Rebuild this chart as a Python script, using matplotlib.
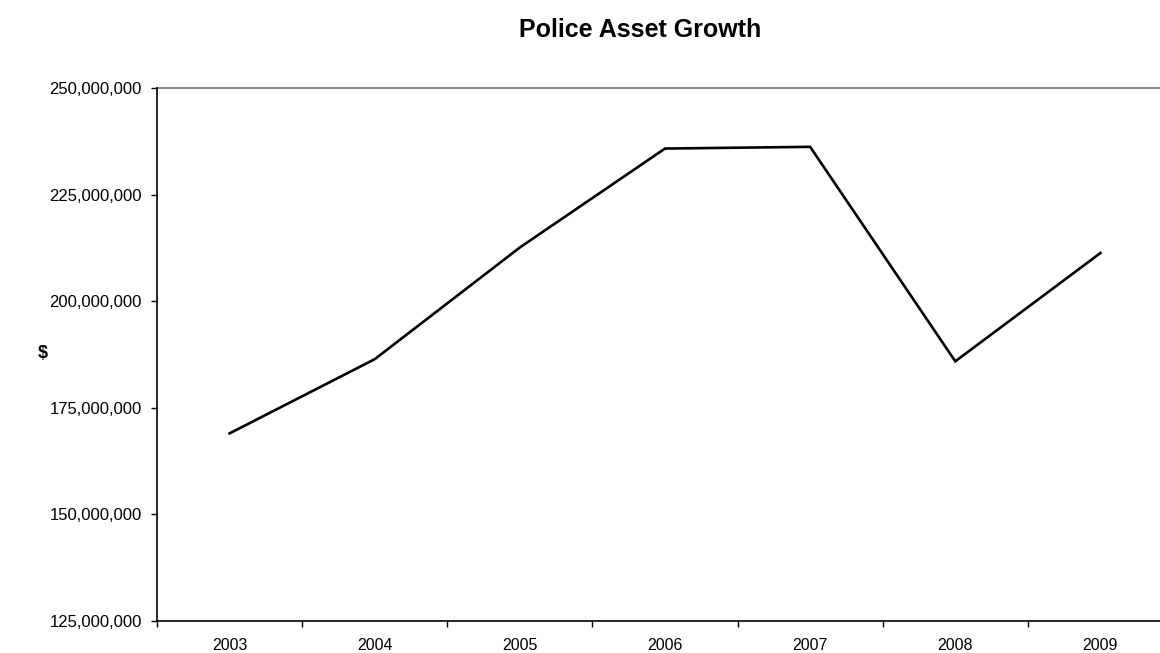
import matplotlib.pyplot as plt
from matplotlib.ticker import FuncFormatter, FixedLocator

# Police asset values by year
years = ['2003', '2004', '2005', '2006', '2007', '2008', '2009']
assets = [169.0e6, 186.4e6, 212.6e6, 235.8e6, 236.2e6, 185.9e6, 211.3e6]

plt.rcParams['font.family'] = ['Liberation Sans', 'DejaVu Sans']

fig = plt.figure(figsize=(11.6, 6.53), dpi=100)
ax = fig.add_axes([157 / 1160, 1 - 621 / 653, (1173 - 157) / 1160, (621 - 88) / 653])

x = list(range(len(years)))
ax.plot(x, assets, color='black', linewidth=1.9, solid_joinstyle='miter')

ax.set_xlim(-0.5, len(years) - 0.5)
ax.set_ylim(125e6, 250e6)
ax.set_yticks([125e6, 150e6, 175e6, 200e6, 225e6, 250e6])
ax.yaxis.set_major_formatter(FuncFormatter(lambda v, p: f'{v:,.0f}'))
ax.axhline(250e6, color='#8c8c8c', linewidth=1.5, clip_on=False)

# category labels centred, tick marks between categories
ax.set_xticks(x)
ax.set_xticklabels(years)
ax.xaxis.set_minor_locator(FixedLocator([i - 0.5 for i in range(len(years) + 1)]))
ax.tick_params(axis='x', which='major', length=0, pad=12, labelsize=11.5)
ax.tick_params(axis='x', which='minor', length=4, width=1, direction='out')
ax.tick_params(axis='y', length=4, width=1, direction='out', pad=7, labelsize=12)

for side in ['top', 'right']:
    ax.spines[side].set_visible(False)
ax.spines['left'].set_linewidth(1.2)
ax.spines['bottom'].set_linewidth(1.2)

fig.text(640 / 1160, 1 - 30 / 653, 'Police Asset Growth', ha='center', va='center',
         fontsize=18, fontweight='bold')
fig.text(43 / 1160, 1 - 353 / 653, '$', ha='center', va='center',
         fontsize=13, fontweight='bold')

fig.savefig('out.png', dpi=100)
